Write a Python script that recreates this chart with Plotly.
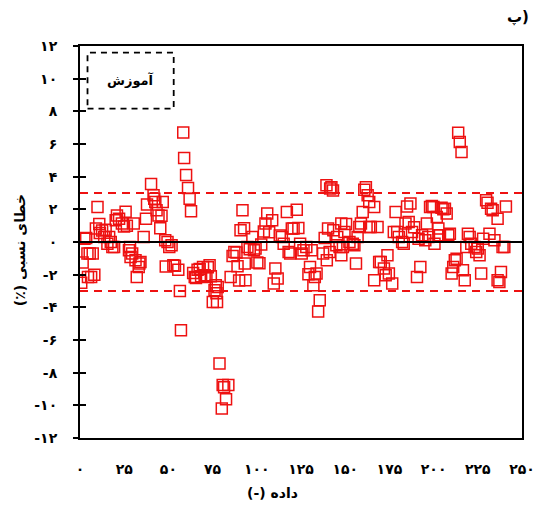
import plotly.graph_objects as go

# ---- data ----
x_vals = [
    0.7, 1.5, 2.5, 3.5, 4.2, 4.5, 5.5, 6.3, 7.2, 8.1, 9.0, 9.9, 10.9, 11.2, 12.5, 13.7, 14.5, 15.5, 16.5, 17.4,
    18.3, 19.3, 20.2, 20.9, 22.1, 23.7, 24.9, 25.8, 26.5, 27.7, 28.3, 28.6, 29.5, 30.4, 31.4, 32.1, 33.2, 33.6, 34.2, 36.0,
    37.3, 37.9, 40.2, 41.6, 42.0, 42.6, 43.3, 44.4, 45.4, 46.1, 46.8, 48.2, 48.5, 49.5, 50.5, 51.8, 52.8, 53.7, 55.6, 56.5,
    57.1, 58.4, 58.9, 60.0, 61.1, 62.0, 62.8,
    64.0, 64.9, 65.6, 66.5, 67.7, 68.5, 69.6, 70.5, 71.5, 72.3, 73.3, 74.0, 75.1, 76.1, 76.8, 77.2, 77.5, 77.9, 78.9, 80.2,
    80.7, 81.5, 82.6, 83.9, 85.2, 86.3, 87.3, 88.5, 89.1, 90.0, 90.8, 91.9, 92.8, 93.2, 93.6, 94.7, 96.0, 97.5, 98.4, 99.3,
    100.3,
    101.5, 102.5, 104.0, 104.9, 105.9, 107.0, 108.7, 109.6, 110.5, 111.8, 113.0, 114.2, 115.2, 117.0, 118.0, 118.9, 119.8, 120.8, 122.6, 123.5,
    124.5, 125.4, 126.4, 128.0, 129.2, 130.1, 131.0, 132.0, 132.8, 133.8, 134.7, 135.6, 137.5, 138.4, 139.4, 139.6, 140.3, 141.2, 141.5, 142.2,
    143.1, 143.3, 145.0, 145.5, 146.8, 147.8, 147.8, 148.7, 149.6, 150.5, 152.4, 154.3, 155.2, 156.1, 157.0, 158.0, 158.9, 159.9, 160.8, 161.7,
    162.7, 163.6, 163.6, 164.5, 166.4, 166.4, 168.3, 169.2, 170.1, 171.9, 172.9, 173.9, 174.7, 176.6, 177.5, 178.5, 179.4, 180.3, 182.2, 183.1,
    184.1, 185.0, 185.9, 186.9, 187.8, 189.0, 190.6, 191.5, 192.5, 193.5, 195.3,
    196.2, 197.0, 198.0, 199.0, 199.9, 200.5, 201.8, 202.7, 202.7, 203.6, 204.5, 205.5, 206.4, 207.4, 208.3, 209.2, 210.2, 211.1, 212.0, 213.0,
    213.9, 214.8, 215.8, 216.6, 217.6, 218.5, 219.4, 220.4, 221.3, 223.2, 224.1, 225.0, 226.0, 226.9, 228.0, 229.7, 230.5, 231.6, 232.5, 233.4,
    234.4, 236.2, 236.2, 237.2, 238.1, 239.0, 240.0, 240.9,
]
rel_error = [
    -2.5, -1.25, 0.2, 0.25, -0.7, -2.15, -0.7, -2.15, -0.7, -2.0, 0.82, 2.15, 1.1, 0.55, 0.7, 0.31, 0.75, -0.1, 0.3, 0.0,
    -0.3, -0.3, 1.33, 1.63, 1.43, 1.14, 0.95, 1.85, 1.0, -0.5, -0.3, -0.92, -0.7, 1.14, -1.12, -2.14, -1.53, -1.32, -1.22, 0.31,
    1.43, 2.3, 3.55, 2.86, 2.65, 2.45, 1.94, 1.63, 0.84, 1.6, 2.45, 0.1, -1.5, 0.0, -0.3, -0.2, -1.42, -1.45, -1.7, -3.0,
    -5.4, 6.7, 5.15, 4.1, 3.3, 2.65, 1.88,
    -1.9, -2.14, -2.2, -1.7, -1.65, -2.1, -1.53, -2.04, -2.14, -1.55, -1.42, -2.1, -3.67, -2.95, -2.65, -3.14, -3.67, -2.75, -7.44, -10.19,
    -8.76, -8.9, -9.62, -8.76, -2.14, -0.85, -0.61, -0.65, -1.48, -2.35, 0.72, 1.94, 0.84, -1.32, -2.34, -0.31, -0.45, 0.31, -0.51, -0.4,
    -1.25,
    -1.3, -0.15, 0.65, 1.13, 1.74, 0.6, 1.33, -2.54, -1.63, -2.24, 0.4, 0.31, -0.1, 1.83, -0.61, -0.71, 0.82, 0.82, 1.98, 0.85,
    -0.1, -0.71, -0.51, -0.3, -1.98, -1.53, -0.51, -2.65, -2.14, -1.93, -4.26, -3.57, -0.71, 0.25, 3.47, -1.12, 0.82, -0.61, 3.27, 3.35,
    3.16, 0.72, -0.2, 0.31, -0.31, 1.13, -0.81, -0.31, 0.61, 1.1, 0.0, -0.1, -0.2, -1.32, 0.3, 0.92, 1.13, 1.83, 3.2, 3.35,
    2.86, 2.45, 0.92, 0.92, 2.14, -2.34, 0.92, -1.22, -1.22, -1.63, -2.04, -0.81, -1.93, -2.54, 0.61, 1.83, 0.61, 0.31, 0.0, -0.1,
    1.13, 2.18, 1.22, 2.35, 0.61, 0.9, -2.14, 0.2, -1.53, 0.41, 0.1,
    1.13, 0.3, 2.14, 2.2, 2.14, -0.1, 1.53, 0.82, 0.41, 0.41, 2.1, 2.0, 2.04, 1.74, 0.41, 0.51, -1.93, -1.53, -1.12, -1.02,
    6.69, 6.12, 5.51, -1.73, -2.34, -0.3, 0.51, 0.31, -0.1, -0.31, -0.61, -0.4, -0.81, -1.93, 0.2, 2.55, 2.4, 0.51, 2.04, 1.94,
    0.1, 1.43, -2.34, -2.45, -1.83, -0.3, -0.31, 2.18,
]

upper_band = 3
lower_band = -3

y_tickvals = [12, 10, 8, 6, 4, 2, 0, -2, -4, -6, -8, -10, -12]
y_ticktext = ["۱۲", "۱۰", "۸", "۶", "۴", "۲", "۰", "-۲", "-۴", "-۶", "-۸", "-۱۰", "-۱۲"]
x_tickvals = [0, 25, 50, 75, 100, 125, 150, 175, 200, 225, 250]
x_ticktext = ["۰", "۲۵", "۵۰", "۷۵", "۱۰۰", "۱۲۵", "۱۵۰", "۱۷۵", "۲۰۰", "۲۲۵", "۲۵۰"]

x_title = "\u202Bداده (-)\u202C"
y_title = "\u202Bخطای نسبی (٪)\u202C"
legend_label = "آموزش"
panel_label = "پ)"

FONT = "DejaVu Sans"
RED = "#ee1111"

fig = go.Figure()

fig.add_trace(go.Scatter(
    x=x_vals, y=rel_error, mode="markers",
    marker=dict(symbol="square-open", size=11, color=RED, line=dict(width=1.5, color=RED)),
    showlegend=False, hoverinfo="skip",
))
# transparent copy of the same data on the overlaying axis that draws the inner tick halves
fig.add_trace(go.Scatter(x=x_vals, y=rel_error, yaxis="y2", mode="markers",
                         marker=dict(opacity=0), showlegend=False, hoverinfo="skip"))

# reference lines
fig.add_hline(y=0, line=dict(color="black", width=2))
fig.add_hline(y=upper_band, line=dict(color=RED, width=2, dash="8px,6px"))
fig.add_hline(y=lower_band, line=dict(color=RED, width=2, dash="8px,6px"))

# dashed legend box
fig.add_shape(type="rect", xref="paper", yref="paper", x0=0.017, x1=0.212, y0=0.84, y1=0.983,
              line=dict(color="black", width=1.8, dash="6px,5px"), fillcolor="rgba(0,0,0,0)")

def ann(text, x, y, size, angle=0):
    fig.add_annotation(text=text, xref="paper", yref="paper", x=x, y=y, textangle=angle,
                       xanchor="center", yanchor="middle", showarrow=False,
                       font=dict(family=FONT, size=size, color="black", weight="bold"))

ann(legend_label, 0.114, 0.912, 13)
ann(y_title, -0.135, 0.48, 14, -90)
ann(x_title, 0.435, -0.14, 14)
ann(panel_label, 0.99, 1.073, 15)

tickfont = dict(family=FONT, size=14, color="black", weight="bold")

fig.update_layout(
    width=547, height=516,
    margin=dict(l=80, r=19, t=46, b=78),
    paper_bgcolor="white", plot_bgcolor="white",
    xaxis=dict(range=[0, 250], tickvals=x_tickvals, ticktext=x_ticktext, ticks="",
               showline=True, linecolor="black", linewidth=2, mirror=True,
               showgrid=False, zeroline=False, tickfont=tickfont, ticklabelstandoff=17),
    yaxis=dict(range=[-12, 12], tickvals=y_tickvals, ticktext=y_ticktext, ticks="outside",
               ticklen=5, tickwidth=2, tickcolor="black",
               showline=True, linecolor="black", linewidth=2, mirror=True,
               showgrid=False, zeroline=False, tickfont=tickfont, ticklabelstandoff=13),
    yaxis2=dict(range=[-12, 12], tickvals=y_tickvals, overlaying="y", side="left",
                ticks="inside", ticklen=6, tickwidth=2, tickcolor="black",
                showticklabels=False, showgrid=False, zeroline=False, showline=False),
)

fig.write_html("out.html", config={"displayModeBar": False},
               post_script="document.body.style.margin='0px';")
